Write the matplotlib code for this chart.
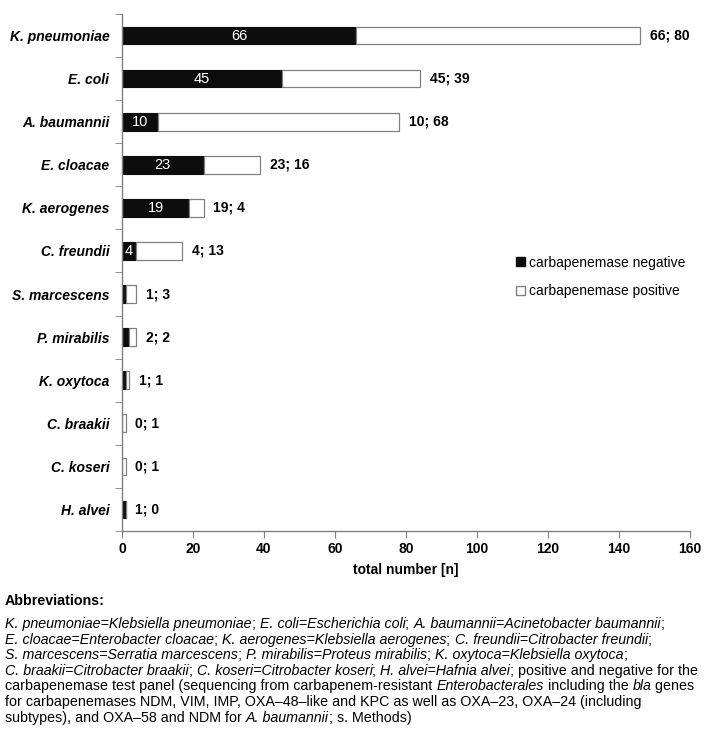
import numpy as np
import matplotlib
matplotlib.use('Agg')
import matplotlib.pyplot as plt
from matplotlib.patches import Patch

plt.rcParams['font.family'] = ['Liberation Sans', 'DejaVu Sans']

# data
species = ['K. pneumoniae', 'E. coli', 'A. baumannii', 'E. cloacae', 'K. aerogenes',
           'C. freundii', 'S. marcescens', 'P. mirabilis', 'K. oxytoca', 'C. braakii',
           'C. koseri', 'H. alvei']
neg = [66, 45, 10, 23, 19, 4, 1, 2, 1, 0, 0, 1]
pos = [80, 39, 68, 16, 4, 13, 3, 2, 1, 1, 1, 0]
xticks = [0, 20, 40, 60, 80, 100, 120, 140, 160]

# footnote lines, *...* = italic
notes = [
    '*K. pneumoniae=Klebsiella pneumoniae*; *E. coli=Escherichia coli*; *A. baumannii=Acinetobacter baumannii*;',
    '*E. cloacae=Enterobacter cloacae*; *K. aerogenes=Klebsiella aerogenes*; *C. freundii=Citrobacter freundii*;',
    '*S. marcescens=Serratia marcescens*; *P. mirabilis=Proteus mirabilis*; *K. oxytoca=Klebsiella oxytoca*;',
    '*C. braakii=Citrobacter braakii*; *C. koseri=Citrobacter koseri*; *H. alvei=Hafnia alvei*; positive and negative for the',
    'carbapenemase test panel (sequencing from carbapenem-resistant *Enterobacterales* including the *bla* genes',
    'for carbapenemases NDM, VIM, IMP, OXA\u201348\u2013like and KPC as well as OXA\u201323, OXA\u201324 (including',
    'subtypes), and OXA\u201358 and NDM for *A. baumannii*; s. Methods)',
]

W, H = 707, 734
fig = plt.figure(figsize=(W / 100, H / 100), dpi=100)
ax = fig.add_axes([122 / W, 1 - 531 / H, (690 - 122) / W, (531 - 14) / H])

y = np.arange(len(species))
neg = np.array(neg)
pos = np.array(pos)
grey = '#808080'

ax.barh(y, neg, height=0.41, color='#0d0d0d', edgecolor='#0d0d0d', linewidth=0.8)
ax.barh(y, pos, left=neg, height=0.41, color='white', edgecolor=grey, linewidth=0.9)

for i in range(len(species)):
    if neg[i] >= 4:
        ax.text(neg[i] / 2, y[i], str(neg[i]), ha='center', va='center',
                color='white', fontsize=10.5)
    ax.annotate(f'{neg[i]}; {pos[i]}', xy=(neg[i] + pos[i], y[i]), xytext=(7, 0),
                textcoords='offset points', ha='left', va='center',
                fontsize=10, fontweight='bold', annotation_clip=False)

ax.set_xlim(0, 160)
ax.set_ylim(len(species) - 0.5, -0.5)
ax.set_xticks(xticks)
ax.set_xticklabels([str(t) for t in xticks], fontsize=10, fontweight='bold')
ax.set_yticks(y)
ax.set_yticklabels(species, fontsize=10, fontweight='bold', style='italic')
ax.set_yticks(np.arange(len(species) + 1) - 0.5, minor=True)
ax.tick_params(axis='y', which='major', length=0, pad=9)
ax.tick_params(axis='y', which='minor', length=5, color=grey, direction='out')
ax.tick_params(axis='x', length=5, color=grey, direction='out', pad=3)
ax.set_xlabel('total number [n]', fontsize=10, fontweight='bold', labelpad=5)

for s in ['top', 'right']:
    ax.spines[s].set_visible(False)
for s in ['left', 'bottom']:
    ax.spines[s].set_color(grey)
    ax.spines[s].set_linewidth(1.0)

handles = [Patch(facecolor='#0d0d0d', edgecolor='#0d0d0d', label='carbapenemase negative'),
           Patch(facecolor='white', edgecolor=grey, label='carbapenemase positive')]
fig.legend(handles=handles, loc='center left', bbox_to_anchor=(516 / W, 1 - 277 / H),
           frameon=False, fontsize=10, handlelength=0.65, handleheight=0.65,
           handletextpad=0.3, labelspacing=1.05, borderpad=0, borderaxespad=0)

# footnote with mixed italic / upright pieces
fs = 10.3
fig.text(5 / W, 1 - 605 / H, 'Abbreviations:', fontsize=fs, fontweight='bold',
         va='baseline', ha='left')
renderer = fig.canvas.get_renderer()


def text_width(s, italic):
    # width measured between two bars so edge spaces are counted
    a = fig.text(0, 0, '|' + s + '|', fontsize=fs, style='italic' if italic else 'normal')
    b = fig.text(0, 0, '||', fontsize=fs, style='italic' if italic else 'normal')
    w = a.get_window_extent(renderer).width - b.get_window_extent(renderer).width
    a.remove()
    b.remove()
    return w


for k, line in enumerate(notes):
    yb = 1 - (628 + k * 15.6) / H
    xp = 5.0
    for j, part in enumerate(line.split('*')):
        if not part:
            continue
        it = (j % 2 == 1)
        fig.text(xp / W, yb, part, fontsize=fs, style='italic' if it else 'normal',
                 va='baseline', ha='left')
        xp += text_width(part, it)

fig.savefig('out.png', dpi=100)
